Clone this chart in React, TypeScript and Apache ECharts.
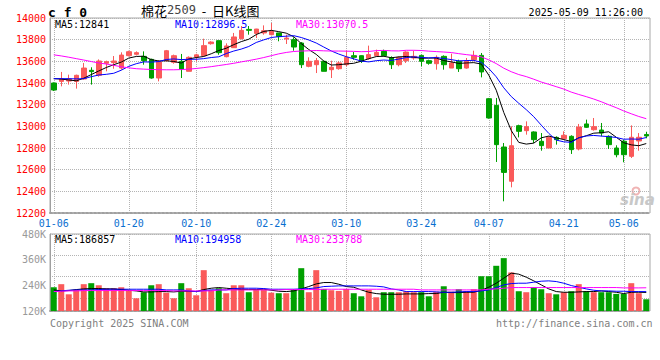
import React, { useEffect, useRef } from "react";
import * as echarts from "echarts";

const dates = [
  "01-06","01-07","01-08","01-09","01-10","01-13","01-14","01-15","01-16","01-17",
  "01-20","01-21","01-22","01-23","01-24","01-27","02-05","02-06","02-07","02-10",
  "02-11","02-12","02-13","02-14","02-17","02-18","02-19","02-20","02-21","02-24",
  "02-25","02-26","02-27","02-28","03-03","03-04","03-05","03-06","03-07","03-10",
  "03-11","03-12","03-13","03-14","03-17","03-18","03-19","03-20","03-21","03-24",
  "03-25","03-26","03-27","03-28","03-31","04-01","04-02","04-03","04-07","04-08",
  "04-09","04-10","04-11","04-14","04-15","04-16","04-17","04-18","04-21","04-22",
  "04-23","04-24","04-25","04-28","04-29","04-30","05-06","05-07","05-08","05-09"
];
const labelDates = ["01-06","01-20","02-10","02-24","03-10","03-24","04-07","04-21","05-06"];

const opens = [
  13400,13415,13418,13415,13437,13517,13471,13582,13588,13538,
  13652,13665,13646,13618,13446,13606,13591,13600,13508,13640,
  13652,13763,13791,13643,13726,13809,13895,13858,13862,13846,
  13862,13806,13800,13769,13554,13569,13600,13523,13532,13569,
  13652,13652,13625,13652,13692,13631,13569,13606,13631,13655,
  13606,13578,13646,13538,13600,13538,13615,13655,13255,13194,
  12809,12493,13006,12960,12948,12862,12800,12898,12886,12908,
  12791,13022,12969,12966,12908,12800,12862,12723,12865,12925
];
const closes = [
  13335,13437,13437,13471,13538,13505,13603,13597,13603,13658,
  13689,13680,13606,13446,13594,13698,13652,13529,13637,13660,
  13745,13778,13680,13742,13825,13886,13886,13898,13883,13877,
  13828,13815,13732,13569,13600,13606,13508,13545,13585,13637,
  13637,13600,13662,13683,13652,13569,13637,13686,13646,13600,
  13582,13637,13569,13585,13532,13600,13655,13502,13077,12831,
  12575,12821,12954,12997,12877,12822,12898,12877,12917,12785,
  12994,12991,12997,12938,12831,12738,12738,12899,12899,12911
];
const lows = [
  13326,13369,13385,13348,13431,13385,13458,13508,13532,13523,
  13646,13655,13569,13440,13415,13600,13578,13446,13508,13600,
  13646,13754,13661,13637,13723,13803,13846,13815,13846,13840,
  13785,13760,13698,13538,13545,13492,13508,13446,13523,13554,
  13615,13585,13615,13646,13646,13529,13554,13585,13615,13554,
  13569,13523,13523,13538,13502,13532,13600,13452,13071,12671,
  12308,12437,12898,12923,12846,12775,12800,12831,12877,12745,
  12778,12985,12960,12908,12791,12714,12668,12708,12775,12890
];
const highs = [
  13405,13502,13477,13477,13585,13545,13618,13606,13649,13683,
  13698,13692,13692,13625,13612,13705,13662,13668,13646,13670,
  13809,13785,13791,13766,13862,13926,13926,13900,13932,13954,
  13862,13846,13822,13778,13637,13631,13606,13606,13600,13698,
  13686,13655,13745,13708,13708,13646,13646,13692,13698,13661,
  13615,13655,13655,13671,13615,13631,13698,13677,13262,13262,
  12846,13000,13015,13046,12954,12938,12908,12908,12954,12917,
  13022,13062,13077,13031,12917,12825,12877,13009,12938,12950
];

const ma5 = [
  13440,13436,13428,13420,13444,13478,13511,13543,13569,13593,
  13630,13645,13647,13616,13603,13605,13599,13584,13622,13635,
  13645,13670,13700,13721,13754,13782,13804,13847,13876,13886,
  13874,13860,13827,13764,13709,13664,13603,13566,13569,13576,
  13582,13601,13624,13644,13647,13633,13641,13645,13638,13628,
  13630,13630,13607,13595,13581,13585,13588,13575,13473,13333,
  13128,12961,12852,12836,12845,12894,12910,12894,12878,12860,
  12894,12913,12937,12941,12950,12899,12848,12829,12821,12841
];
const ma10 = [
  13440,13440,13440,13438,13440,13458,13474,13480,13490,13518,
  13554,13578,13595,13593,13598,13617,13622,13616,13619,13619,
  13625,13635,13642,13672,13695,13713,13737,13774,13798,13820,
  13828,13832,13837,13820,13797,13769,13732,13696,13667,13643,
  13623,13602,13595,13606,13612,13608,13621,13635,13641,13637,
  13632,13635,13626,13616,13604,13607,13609,13591,13534,13457,
  13356,13275,13213,13154,13089,13011,12935,12873,12857,12852,
  12894,12911,12916,12910,12905,12897,12881,12883,12881,12896.5
];
const ma30 = [
  13660,13650,13638,13625,13612,13598,13585,13575,13563,13550,
  13540,13532,13528,13525,13523,13522,13522,13524,13528,13534,
  13542,13551,13561,13571,13582,13595,13607,13620,13635,13652,
  13669,13682,13691,13695,13697,13700,13697,13695,13695,13694,
  13692,13689,13691,13699,13701,13697,13696,13702,13702,13700,
  13694,13690,13686,13681,13671,13662,13654,13641,13614,13579,
  13537,13504,13478,13459,13435,13409,13388,13366,13344,13316,
  13294,13274,13252,13227,13199,13172,13142,13116,13091,13070.5
];

const volumes = [
  239000,270000,168000,212000,270000,280000,259000,229000,229000,239000,
  212000,128000,189000,259000,270000,185000,128000,280000,229000,158000,
  411000,212000,229000,179000,259000,259000,189000,212000,212000,185000,
  179000,179000,219000,431000,189000,411000,222000,209000,202000,222000,
  179000,148000,212000,138000,189000,189000,189000,199000,189000,189000,
  148000,195000,249000,195000,219000,199000,219000,350000,350000,455000,
  532000,388000,199000,189000,239000,219000,179000,168000,189000,199000,
  270000,199000,189000,189000,189000,172000,172000,280000,179000,118000
];
const volMa5 = [
  212300,202200,205600,215700,222400,225800,225800,222400,222400,215700,
  208900,202200,192100,192100,195500,195500,192100,198800,198800,195500,
  215700,229200,235900,229200,222400,215700,215700,215700,219100,208900,
  198800,195500,202200,222400,246000,273000,286500,286500,269600,246000,
  239300,212300,188700,175200,168500,168500,168500,171900,171900,171900,
  175200,175200,188700,185400,185400,188700,188700,208900,239300,279700,
  330300,380800,370700,340400,303300,262900,222400,195500,188700,188700,
  192100,195500,195500,202200,195500,188700,175200,188700,188700,186857
];
const volMa10 = [
  195500,202200,208900,212300,212300,212300,215700,219100,219100,219100,
  219100,219100,219100,219100,219100,212300,212300,212300,202200,195500,
  205600,212300,212300,212300,225800,229200,229200,229200,225800,219100,
  219100,219100,219100,222400,225800,232500,246000,249400,252800,252800,
  252800,252800,252800,249400,242600,222400,212300,195500,195500,195500,
  195500,192100,188700,188700,192100,195500,195500,202200,212300,235900,
  262900,276300,279700,279700,289800,299900,303300,296600,279700,256100,
  239300,222400,208900,202200,202200,198800,198800,195500,195500,194958
];
const volMa30 = [
  195500,198800,202200,202200,205600,205600,205600,205600,205600,205600,
  205600,205600,205600,205600,205600,205600,202200,202200,202200,202200,
  202200,202200,212300,212300,212300,212300,212300,212300,212300,212300,
  212300,215700,215700,215700,215700,215700,219100,219100,219100,219100,
  219100,219100,219100,219100,219100,219100,219100,219100,219100,212300,
  212300,212300,212300,212300,212300,212300,212300,212300,219100,222400,
  229200,235900,235900,235900,235900,235900,235900,235900,235900,235900,
  235900,235900,235900,235900,235900,235900,232500,232500,232500,233788
];

const volTicks = [120000, 240000, 360000, 480000];

const UP = "#fa5a5a";
const DOWN = "#00a000";
const MONO = "'DejaVu Sans Mono', 'Liberation Mono', monospace";
const GRID = "#b4b4b4";

export default function App() {
  const ref = useRef<HTMLDivElement>(null);

  useEffect(() => {
    const chart = echarts.init(ref.current as HTMLDivElement, null, { renderer: "svg" });
    const isLabel = (_i: number, v: string) => labelDates.indexOf(v) >= 0;
    const kdata = dates.map((_, i) => [opens[i], closes[i], lows[i], highs[i]]);
    const vdata = volumes.map((v, i) => ({
      value: v,
      itemStyle: { color: closes[i] >= opens[i] ? UP : DOWN },
    }));
    const lineSeries = (name: string, data: number[], color: string, xi: number, yi: number) => ({
      name,
      type: "line",
      xAxisIndex: xi,
      yAxisIndex: yi,
      data,
      showSymbol: false,
      symbol: "none",
      silent: true,
      lineStyle: { color, width: 1 },
      z: 5,
    });
    const txt = (x: number, y: number, text: string, fill: string, extra: any = {}) => ({
      type: "text",
      x,
      y,
      silent: true,
      style: {
        text,
        fill,
        font: `10px ${MONO}`,
        textVerticalAlign: "middle",
        ...extra,
      },
    });

    const option: any = {
      animation: false,
      backgroundColor: "#ffffff",
      grid: [
        { left: 50, top: 18, width: 600, height: 195, show: true, borderColor: "#a8a8a8", borderWidth: 1 },
        { left: 50, top: 234, width: 600, height: 77, show: true, borderColor: "#a8a8a8", borderWidth: 1 },
      ],
      xAxis: [
        {
          type: "category",
          gridIndex: 0,
          data: dates,
          boundaryGap: true,
          axisLine: { lineStyle: { color: "#a0a0a0", width: 2, type: "dotted" } },
          axisTick: { show: false },
          axisLabel: {
            interval: isLabel,
            color: "#0a6fd0",
            fontFamily: MONO,
            fontSize: 10,
            margin: 5,
          },
          splitLine: {
            show: true,
            interval: isLabel,
            alignWithLabel: true,
            lineStyle: { color: GRID, type: "dotted", width: 1 },
          },
        },
        {
          type: "category",
          gridIndex: 1,
          data: dates,
          boundaryGap: true,
          axisLine: { lineStyle: { color: "#a0a0a0", width: 2, type: "dotted" } },
          axisTick: { show: false },
          axisLabel: { show: false },
          splitLine: {
            show: true,
            interval: isLabel,
            alignWithLabel: true,
            lineStyle: { color: GRID, type: "dotted", width: 1 },
          },
        },
      ],
      yAxis: [
        {
          type: "value",
          gridIndex: 0,
          position: "left",
          min: 12200,
          max: 14000,
          interval: 200,
          axisLine: { show: true, lineStyle: { color: "#a0a0a0" } },
          axisTick: { show: false },
          axisLabel: {
            color: "#ff0000",
            fontFamily: MONO,
            fontSize: 10,
            margin: 4,
            padding: [0, 0, 4, 0],
            formatter: (v: number) => String(v),
          },
          splitLine: { show: true, lineStyle: { color: GRID, type: "dotted" } },
        },
        {
          type: "value",
          gridIndex: 1,
          position: "left",
          min: 0,
          max: 775000,
          axisLine: { show: false },
          axisTick: { show: false },
          axisLabel: { show: false },
          splitLine: { show: false },
        },
        {
          type: "value",
          gridIndex: 1,
          position: "left",
          offset: 0,
          min: volTicks[0],
          max: volTicks[volTicks.length - 1],
          interval: volTicks[1] - volTicks[0],
          axisLine: { show: true, lineStyle: { color: "#a0a0a0" } },
          axisTick: { show: false },
          axisLabel: {
            color: "#999999",
            fontFamily: MONO,
            fontSize: 10,
            margin: 4,
            padding: [0, 0, 4, 0],
            formatter: (v: number) => `${Math.round(v / 1000)}K`,
          },
          splitLine: { show: false },
        },
        {
          type: "value",
          gridIndex: 1,
          position: "right",
          inverse: true,
          min: 0,
          max: 3.62,
          interval: 1,
          axisLine: { show: false },
          axisTick: { show: false },
          axisLabel: { show: false },
          splitLine: { show: true, lineStyle: { color: GRID, type: "dotted" } },
        },
      ],
      series: [
        {
          name: "K",
          type: "candlestick",
          xAxisIndex: 0,
          yAxisIndex: 0,
          data: kdata,
          barWidth: 5,
          silent: true,
          z: 3,
          itemStyle: {
            color: UP,
            color0: DOWN,
            borderColor: UP,
            borderColor0: DOWN,
            borderWidth: 1,
          },
        },
        lineSeries("MA5", ma5, "#000000", 0, 0),
        lineSeries("MA10", ma10, "#0000ff", 0, 0),
        lineSeries("MA30", ma30, "#ff00ff", 0, 0),
        {
          name: "VOL",
          type: "bar",
          xAxisIndex: 1,
          yAxisIndex: 1,
          data: vdata,
          barWidth: 6,
          silent: true,
          z: 3,
        },
        lineSeries("VMA5", volMa5, "#000000", 1, 1),
        lineSeries("VMA10", volMa10, "#0000ff", 1, 1),
        lineSeries("VMA30", volMa30, "#ff00ff", 1, 1),
      ],
      graphic: [
        txt(48, 12, "c f 0", "#000000", { font: `bold 13px ${MONO}` }),
        {
          type: "text",
          x: 141,
          y: 10,
          silent: true,
          style: {
            text: "{a|棉花}{b|2509}{a|  -  日K线图}",
            textVerticalAlign: "middle",
            rich: {
              a: { fontFamily: "'Noto Sans CJK SC', sans-serif", fontSize: 13, fill: "#000000" },
              b: { fontFamily: MONO, fontSize: 12, fill: "#444444" },
            },
          },
        },
        txt(643, 12, "2025-05-09 11:26:00", "#000000", { textAlign: "right" }),
        txt(55, 24, "MA5:12841", "#000000"),
        txt(175, 24, "MA10:12896.5", "#0000ff"),
        txt(296, 24, "MA30:13070.5", "#ff00ff"),
        txt(55, 239, "MA5:186857", "#000000"),
        txt(175, 239, "MA10:194958", "#0000ff"),
        txt(296, 239, "MA30:233788", "#ff00ff"),
        txt(50, 323, "Copyright 2025 SINA.COM", "#808080"),
        txt(496, 323, "http://finance.sina.com.cn", "#808080"),
        {
          type: "circle",
          silent: true,
          shape: { cx: 636, cy: 191, r: 3.5 },
          style: { fill: "none", stroke: "#f0b4b4", lineWidth: 2 },
        },
        {
          type: "text",
          x: 620,
          y: 200,
          silent: true,
          style: {
            text: "sina",
            fill: "#c8c8c8",
            font: "italic bold 15px 'DejaVu Sans', sans-serif",
            textVerticalAlign: "middle",
          },
        },
      ],
    };

    chart.setOption(option);
    return () => chart.dispose();
  }, []);

  return (
    <div
      ref={ref}
      style={{ position: "absolute", left: 0, top: 0, width: 660, height: 360, background: "#fff" }}
    />
  );
}
